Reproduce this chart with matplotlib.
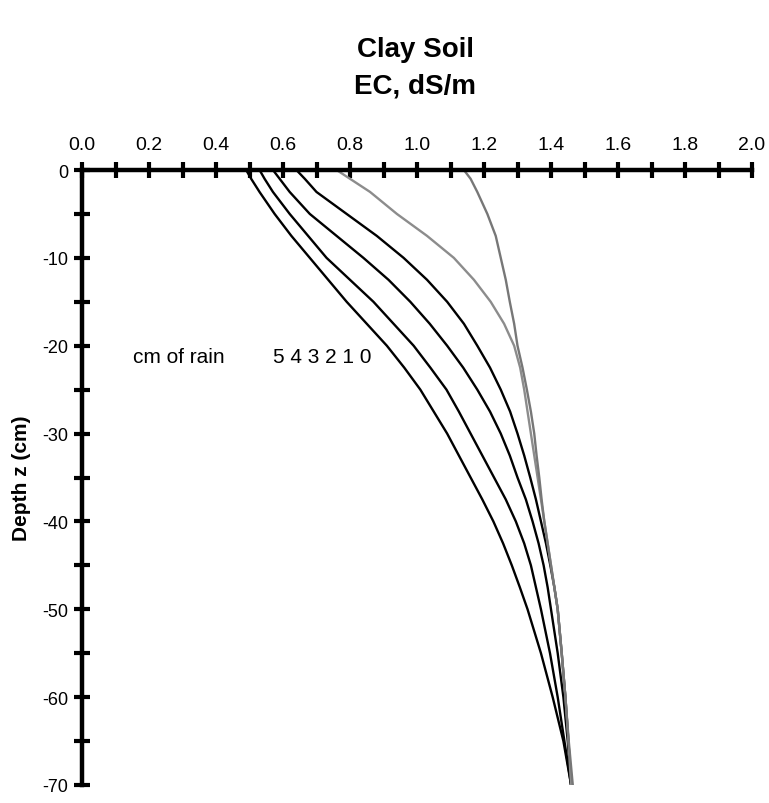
import matplotlib.pyplot as plt
from matplotlib.ticker import MultipleLocator

plt.rcParams['font.family'] = ['Liberation Sans', 'DejaVu Sans']
plt.rcParams['axes.unicode_minus'] = False

# depth (cm) and EC (dS/m) for each cm of rain
depth = [0, -1, -2.5, -5, -7.5, -10, -12.5, -15, -17.5, -20, -22.5, -25, -27.5,
         -30, -32.5, -35, -37.5, -40, -42.5, -45, -47.5, -50, -55, -60, -65, -70]
ec_rain5 = [0.49, 0.505, 0.53, 0.575, 0.625, 0.68, 0.735, 0.79, 0.85, 0.91, 0.962, 1.01, 1.05,
            1.09, 1.125, 1.16, 1.195, 1.228, 1.257, 1.283, 1.307, 1.33, 1.37, 1.405, 1.437, 1.46]
ec_rain4 = [0.53, 0.545, 0.57, 0.62, 0.675, 0.73, 0.80, 0.87, 0.93, 0.99, 1.04, 1.088, 1.125,
            1.16, 1.195, 1.23, 1.265, 1.295, 1.32, 1.34, 1.355, 1.37, 1.397, 1.42, 1.44, 1.46]
ec_rain3 = [0.57, 0.59, 0.62, 0.68, 0.76, 0.84, 0.915, 0.98, 1.038, 1.09, 1.138, 1.18, 1.218,
            1.25, 1.277, 1.30, 1.325, 1.345, 1.363, 1.378, 1.39, 1.40, 1.42, 1.437, 1.45, 1.46]
ec_rain2 = [0.64, 0.665, 0.70, 0.79, 0.88, 0.96, 1.03, 1.09, 1.14, 1.18, 1.218, 1.25, 1.278,
            1.30, 1.32, 1.338, 1.355, 1.37, 1.385, 1.398, 1.41, 1.42, 1.432, 1.443, 1.452, 1.46]
ec_rain1 = [0.76, 0.80, 0.86, 0.94, 1.03, 1.11, 1.17, 1.22, 1.26, 1.29, 1.308, 1.32, 1.33,
            1.34, 1.35, 1.36, 1.37, 1.38, 1.39, 1.40, 1.41, 1.42, 1.432, 1.443, 1.452, 1.46]
ec_rain0 = [1.14, 1.16, 1.18, 1.21, 1.235, 1.25, 1.265, 1.277, 1.29, 1.30, 1.315, 1.328, 1.34,
            1.35, 1.357, 1.365, 1.372, 1.38, 1.39, 1.40, 1.41, 1.42, 1.432, 1.443, 1.453, 1.465]

series = [ec_rain5, ec_rain4, ec_rain3, ec_rain2, ec_rain1, ec_rain0]
colors = ['black', 'black', 'black', 'black', '#8c8c8c', '#777777']

fig = plt.figure(figsize=(7.69, 8.04), dpi=100)
# axes box: x 82..752 px, y 171..786 px
ax = fig.add_axes([82 / 769, 1 - 786 / 804, 670 / 769, 615 / 804])

for s, c in zip(series, colors):
    ax.plot(s, depth, color=c, lw=1.7, zorder=3, solid_joinstyle='round')

ax.set_xlim(0, 2.0)
ax.set_ylim(-70, 0)

for side in ['right', 'bottom']:
    ax.spines[side].set_visible(False)
ax.spines['top'].set_linewidth(3.2)
ax.spines['left'].set_linewidth(3.2)
ax.spines['top'].set_zorder(4)

ax.xaxis.tick_top()
ax.xaxis.set_major_locator(MultipleLocator(0.2))
ax.xaxis.set_minor_locator(MultipleLocator(0.1))
ax.yaxis.set_major_locator(MultipleLocator(10))
ax.yaxis.set_minor_locator(MultipleLocator(5))
ax.xaxis.set_major_formatter(lambda v, p: '%.1f' % v)
ax.tick_params(axis='x', which='both', direction='inout', length=12, width=3,
               pad=6, labelsize=14)
ax.tick_params(axis='y', which='both', direction='inout', length=12, width=3,
               pad=4, labelsize=13)

ax.text(0.152, -21.2, 'cm of rain', fontsize=15, va='center')
ax.text(0.57, -21.2, '5 4 3 2 1 0', fontsize=15, va='center')

ax.set_ylabel('Depth z (cm)', fontsize=15, fontweight='bold', labelpad=8)

fig.text(0.54, 1 - 50 / 804, 'Clay Soil', ha='center', va='center',
         fontsize=20, fontweight='bold')
fig.text(0.54, 1 - 86 / 804, 'EC, dS/m', ha='center', va='center',
         fontsize=20, fontweight='bold')

fig.savefig('out.png', dpi=100)
